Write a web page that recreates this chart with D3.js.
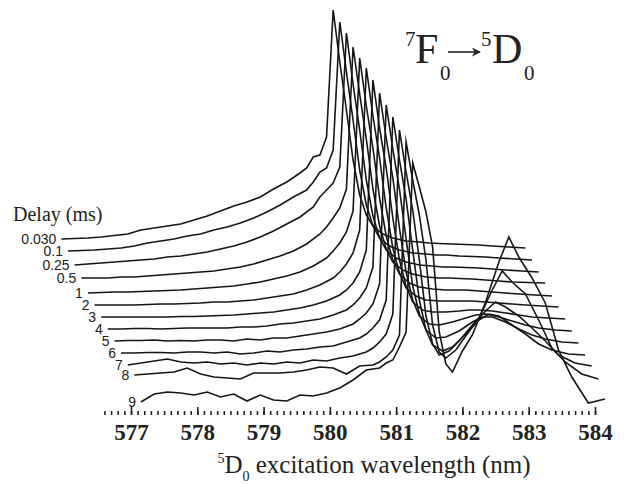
<!DOCTYPE html>
<html>
<head>
<meta charset="utf-8">
<script src="https://cdn.jsdelivr.net/npm/d3@7"></script>
<style>
  body { margin: 0; background: #fff; }
</style>
</head>
<body>
<div id="chart"></div>
<script>
// delay times, one trace per delay (ms)
var delays = ["0.030", "0.1", "0.25", "0.5", "1", "2", "3", "4", "5", "6", "7", "8", "9"];

// wavelength grid of the first (0.030 ms) trace, nm
var wavelength = [575.95, 576.15, 576.35, 576.55, 576.75, 576.95, 577.15, 577.35, 577.55, 577.75,
  577.95, 578.15, 578.35, 578.55, 578.75, 578.95, 579.15, 579.35, 579.55, 579.65,
  579.75, 579.85, 579.95, 580.05, 580.15, 580.25, 580.35, 580.45, 580.55, 580.65,
  580.8, 580.95, 581.15, 581.35, 581.5, 581.65, 581.85, 582.05, 582.25, 582.45,
  582.7, 582.95];

// waterfall stagger between successive traces
var xStep = 0.1;   // nm
var yStep = 12;    // a.u.

// intensities (a.u.) of each trace
var d0030 = [9, 9.5, 10, 11, 12.5, 14, 18, 20, 22, 24, 28, 32, 37, 42, 46, 51, 59, 66, 75, 80, 91, 93, 111, 238,
  186, 138, 88, 53, 33, 22, 14, 10, 7, 6, 5, 4.5, 4, 3.5, 3, 2, 1, 0];
var d01 = [9, 9.5, 10, 11, 12, 14, 17, 19, 21, 24, 26, 30, 33, 37, 42, 48, 55, 63, 70, 78, 88, 92, 110, 238,
  188, 140, 90, 55, 34, 22, 14, 10, 7, 6, 5, 5, 4, 3.5, 3, 2, 1, 0];
var d025 = [7, 8, 9, 10, 11, 12, 13, 15, 16, 18, 20, 23, 26, 30, 35, 41, 48, 55, 65, 75, 82, 89, 105, 239,
  188, 142, 92, 56, 34, 22, 14, 10, 7, 6, 5, 5, 4.5, 4, 3, 2, 1, 0];
var d05 = [6, 6, 6, 7, 7, 8, 9, 10, 11, 12, 13, 15, 17, 20, 24, 28, 33, 40, 50, 57, 66, 76, 95, 237,
  190, 145, 95, 58, 35, 22, 14, 10, 7, 6, 6, 5.5, 5, 4, 3, 2, 1.5, 1];
var d1 = [3, 3.5, 4, 4, 4.5, 5, 5.5, 6, 7, 8, 9, 10, 12, 14, 17, 20, 24, 30, 38, 45, 53, 64, 85, 238,
  190, 148, 98, 60, 36, 22, 13, 9, 7, 6, 6, 6, 5, 4, 3, 2, 1, 0];
var d2 = [3, 3, 3, 3, 3.5, 4, 4, 4.5, 5, 6, 6, 7, 8, 10, 12, 14, 18, 23, 30, 36, 44, 55, 78, 240,
  192, 150, 100, 60, 35, 20, 12, 8, 7, 7, 7, 7, 6, 5, 4, 3, 2, 1];
var d3ms = [3, 3, 3, 3, 3, 3, 3.5, 3.5, 4, 4.5, 5, 6, 7, 8, 10, 12, 15, 19, 25, 30, 37, 48, 70, 240,
  192, 152, 102, 60, 34, 18, 10, 8, 8, 9, 10, 10, 9, 7, 5, 3, 2, 1];
var d4 = [3, 3, 3.5, 3.5, 3, 3.5, 4, 4, 4, 4, 5, 5, 6, 8, 9, 11, 13, 17, 22, 27, 34, 44, 65, 239,
  194, 154, 104, 60, 32, 16, 8, 7, 10, 14, 17, 18, 15, 11, 7, 4, 2, 1];
var d5 = [3, 3.5, 3.5, 4, 3, 3.5, 3, 4, 4, 3, 5, 4, 6, 6, 8, 10, 12, 15, 20, 25, 31, 40, 60, 239,
  195, 155, 105, 58, 30, 14, 6, 7, 13, 22, 27, 27, 22, 15, 9, 5, 2, 1];
var d6 = [3, 3, 3.5, 3.5, 3, 4, 4, 3, 4, 2, 3, 5, 4, 6, 7, 9, 10, 14, 18, 22, 28, 36, 56, 239,
  196, 157, 106, 56, 26, 11, 5, 9, 22, 36, 42, 40, 31, 22, 12, 6, 2, 1];
var d7 = [3, 5, 7, 9, 6, 5, 6, 4, 5, 3, 5, 4, 6, 5, 8, 7, 10, 12, 16, 20, 26, 34, 54, 238,
  196, 158, 108, 52, 24, 13, 17, 27, 43, 57, 66, 61, 52, 40, 27, 13, 5, 2];
var d8 = [5, 6, 7, 8, 12, 6, 3, 2, 1, 7, 7, 7, 8, 10, 13, 12, 6, 14, 15, 18, 23, 30, 45, 238,
  200, 165, 120, 55, 28, 22, 30, 44, 62, 90, 109, 98, 86, 60, 32, 18, 6, 1];
var d9 = [-10, -2, 0, -1, -3, 0, -5, -2, -9, -3, -8, -9, -3, -4, -1, 4, 12, 22, 24, 29, 32, 45, 60, 229,
  205, 180, 145, 60, 28, 20, 41, 57, 90, 130, 155, 135, 114, 89, 42, 15, -11, -7];

var traces = [d0030, d01, d025, d05, d1, d2, d3ms, d4, d5, d6, d7, d8, d9];

var majorTicks = [577, 578, 579, 580, 581, 582, 583, 584];

var width = 630, height = 485;

var svg = d3.select("#chart")
  .append("svg")
    .attr("width", width)
    .attr("height", height);

var x = d3.scaleLinear()
  .domain([577, 584])
  .range([131, 595]);

var y = d3.scaleLinear()
  .domain([-170, 240])
  .range([418, 8]);

var line = d3.line()
  .x(function (d) { return x(d.wl); })
  .y(function (d) { return y(d.v); });

var series = traces.map(function (t, i) {
  return t.map(function (v, j) {
    return { wl: wavelength[j] + xStep * i, v: v - yStep * i };
  });
});

// spectra
svg.append("g")
  .selectAll("path")
  .data(series)
  .enter()
  .append("path")
    .attr("d", line)
    .attr("fill", "none")
    .attr("stroke", "#161616")
    .attr("stroke-width", 1.6)
    .attr("stroke-linejoin", "miter")
    .attr("stroke-miterlimit", 10);

// delay labels at the start of each trace
svg.append("g")
  .selectAll("text")
  .data(series)
  .enter()
  .append("text")
    .attr("x", function (d) { return x(d[0].wl) - 5; })
    .attr("y", function (d) { return y(d[0].v) + 5; })
    .attr("text-anchor", "end")
    .style("font-family", "'Liberation Sans', Arial, sans-serif")
    .style("font-size", "14px")
    .style("fill", "#222")
    .text(function (d, i) { return delays[i]; });

svg.append("text")
  .attr("x", 13)
  .attr("y", 221)
  .style("font-family", "'Liberation Serif', 'Times New Roman', serif")
  .style("font-size", "20px")
  .style("fill", "#222")
  .text("Delay (ms)");

// x axis: minor ticks, major ticks, labels
var axisY = 415;
var minor = d3.range(6, 81).map(function (k) { return 576 + k / 10; });

var gMinor = svg.append("g")
  .attr("transform", "translate(0," + axisY + ")")
  .call(d3.axisTop(x).tickValues(minor).tickSize(4).tickFormat(""));
var gMajor = svg.append("g")
  .attr("transform", "translate(0," + axisY + ")")
  .call(d3.axisTop(x).tickValues(majorTicks).tickSize(8).tickFormat(""));
var gLab = svg.append("g")
  .attr("transform", "translate(0," + axisY + ")")
  .call(d3.axisBottom(x).tickValues(majorTicks).tickSize(0).tickPadding(9).tickFormat(d3.format("d")));

[gMinor, gMajor, gLab].forEach(function (g) {
  g.select(".domain").remove();
  g.selectAll("line").attr("stroke", "#222").attr("stroke-width", 1.6);
});
gLab.selectAll("text")
  .style("font-family", "'Liberation Serif', 'Times New Roman', serif")
  .style("font-weight", "bold")
  .style("font-size", "23px")
  .style("fill", "#222");

// axis title
var title = svg.append("text")
  .attr("x", 374)
  .attr("y", 473)
  .attr("text-anchor", "middle")
  .style("font-family", "'Liberation Serif', 'Times New Roman', serif")
  .style("font-size", "25px")
  .style("fill", "#222");
title.append("tspan").attr("dy", -10).style("font-size", "14px").text("5");
title.append("tspan").attr("dy", 10).text("D");
title.append("tspan").attr("dy", 8).style("font-size", "14px").text("0");
title.append("tspan").attr("dy", -8).text(" excitation wavelength (nm)");

// transition annotation
var ann = svg.append("g")
  .style("font-family", "'Liberation Serif', 'Times New Roman', serif")
  .style("fill", "#222");
ann.append("text").attr("x", 405).attr("y", 46).style("font-size", "21px").text("7");
ann.append("text").attr("x", 415).attr("y", 63).style("font-size", "42px").text("F");
ann.append("text").attr("x", 440).attr("y", 80).style("font-size", "21px").text("0");

svg.append("defs").append("marker")
  .attr("id", "arr")
  .attr("viewBox", "0 0 10 10")
  .attr("refX", 9).attr("refY", 5)
  .attr("markerWidth", 9).attr("markerHeight", 9)
  .attr("markerUnits", "userSpaceOnUse")
  .attr("orient", "auto")
  .append("path")
    .attr("d", "M0,0 L10,5 L0,10 L3,5 Z")
    .attr("fill", "#222");
svg.append("line")
  .attr("x1", 448).attr("y1", 52)
  .attr("x2", 480).attr("y2", 52)
  .attr("stroke", "#222").attr("stroke-width", 1.6)
  .attr("marker-end", "url(#arr)");

ann.append("text").attr("x", 481).attr("y", 46).style("font-size", "21px").text("5");
ann.append("text").attr("x", 492).attr("y", 63).style("font-size", "42px").text("D");
ann.append("text").attr("x", 524).attr("y", 80).style("font-size", "21px").text("0");
</script>
</body>
</html>
